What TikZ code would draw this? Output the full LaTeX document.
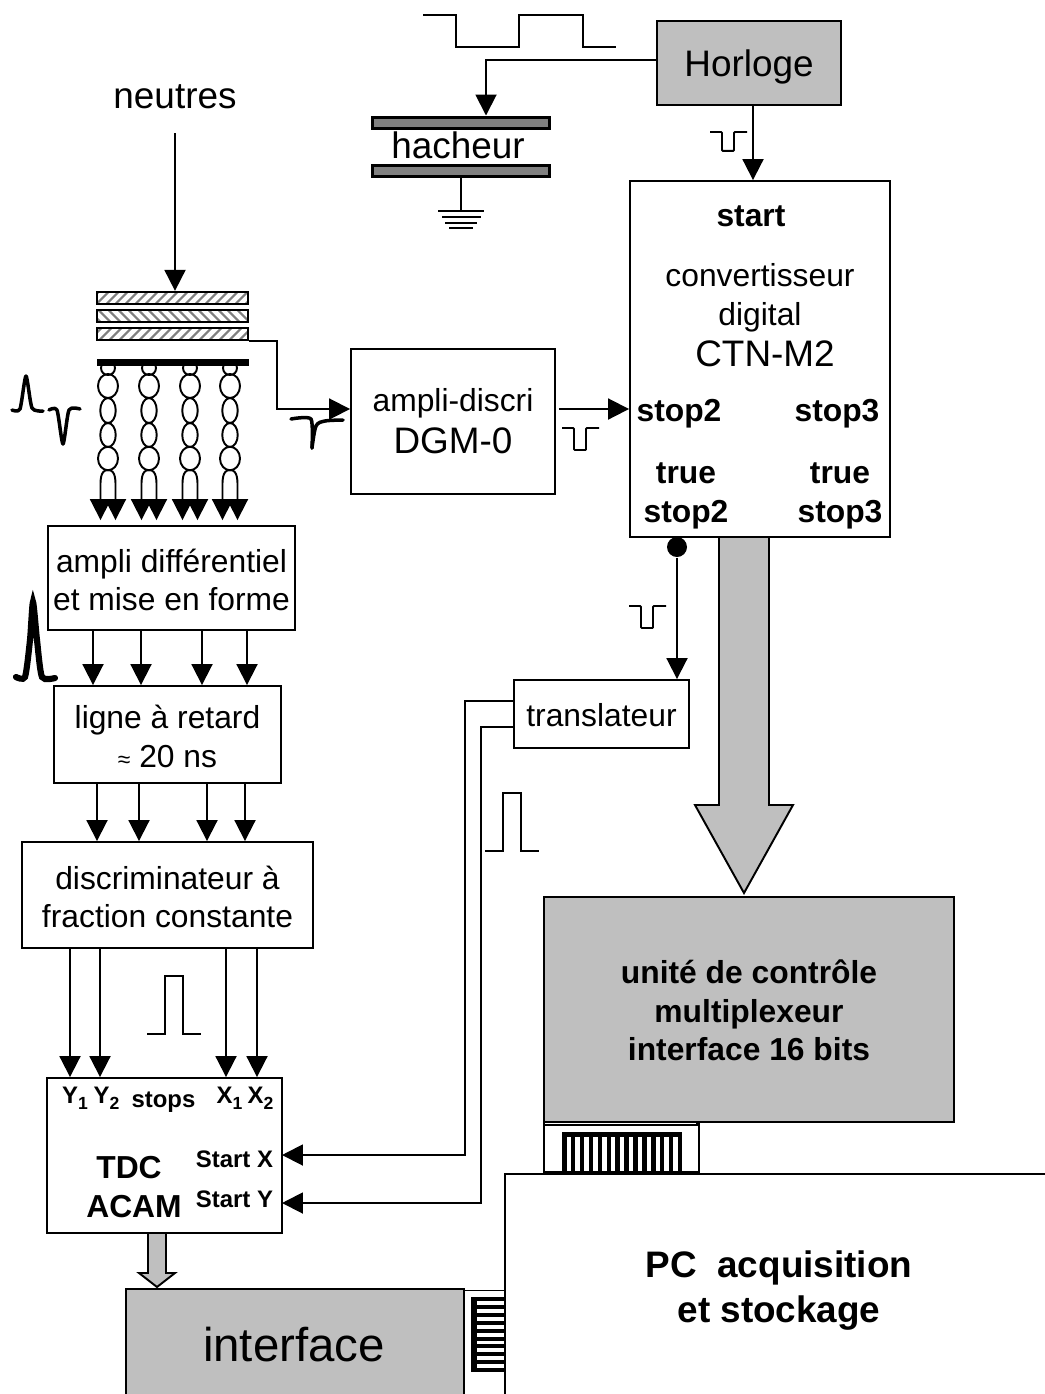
\documentclass[tikz,border=0pt]{standalone}
\usepackage{fontspec}
\setmainfont{Liberation Sans}
\usetikzlibrary{arrows.meta,patterns.meta}
\definecolor{gris}{gray}{0.75}
\definecolor{grisfonce}{gray}{0.5}
\newcommand\indice[1]{\raisebox{-3.5pt}{\fontsize{10}{12}\selectfont #1}}
\tikzset{
  arr/.style={-{Triangle[length=0.42cm,width=0.42cm]}},
  bloc/.style={draw,fill=white,inner sep=0pt},
  txt/.style={font=\fontsize{18.1}{22}\selectfont,align=center,inner sep=0pt},
  grand/.style={font=\fontsize{21}{24}\selectfont,align=center,inner sep=0pt},
  gras/.style={font=\fontsize{18.1}{22}\selectfont\bfseries,align=center,inner sep=0pt},
  petit/.style={font=\fontsize{13.6}{16}\selectfont\bfseries,inner sep=0pt,anchor=base},
  detect/.style={draw,inner sep=0pt,minimum width=3.02cm,minimum height=0.24cm,pattern color=gray},
  plaque/.style={draw,fill=grisfonce,inner sep=0pt,minimum width=3.56cm,minimum height=0.22cm,line width=1.7pt},
  main/.style={line width=2pt,line cap=round,line join=round},
  creux/.pic={\draw[rounded corners=0.5pt] (0,0) -- (12,0) -- (12,22) -- (24,22) -- (24,0) -- (37,0);},
  crenau/.pic={\draw (0,0) -- (18,0) -- (18,-58) -- (36,-58) -- (36,0) -- (54,0);}
}
\begin{document}
\begin{tikzpicture}[x=0.02cm,y=-0.02cm,line width=1.1pt]
  \path[use as bounding box,clip] (0,0) rectangle (1045,1394);
  % horloge et hacheur
  \draw (423,15) -- (456,15) -- (456,47) -- (519,47) -- (519,15) -- (583,15) -- (583,47) -- (616,47);
  \node[bloc,fill=gris,minimum width=3.68cm,minimum height=1.68cm] (horloge) at (749,63) {};
  \node[grand] (horloget) at (749,67) {Horloge};
  \node[plaque] (plaquea) at (461,122.5) {};
  \node[plaque] (plaqueb) at (461,170.5) {};
  \node[grand] (hacheur) at (458,145) {hacheur};
  \coordinate (coudeh) at (486,60);
  \draw[arr] (horloge.west |- coudeh) -- (coudeh) -- (coudeh |- plaquea.north);
  \coordinate (terre) at (461,211);
  \draw (plaqueb.south) -- (terre);
  \draw (438,211) -- (484,211) (442,217) -- (481,217) (445,223) -- (477,223) (449,228) -- (473,228);
  % convertisseur
  \node[bloc,minimum width=5.2cm,minimum height=7.12cm] (conv) at (760,359) {};
  \draw[arr] (753,0 |- horloge.south) -- (753,0 |- conv.north);
  \pic[yscale=0.86] at (710,132) {creux};
  \node[gras] (start) at (751,216) {start};
  \node[txt] (titre) at (760,297.5) {convertisseur\\digital};
  \node[grand] (ctn) at (765,354) {CTN-M2};
  \node[gras] (stopa) at (679,414) {stop2};
  \node[gras] (stopb) at (837,414) {stop3};
  \node[gras] (truea) at (686,496) {true\\stop2};
  \node[gras] (trueb) at (840,496) {true\\stop3};
  % grosse fleche
  \draw[fill=gris] (719,537) -- (769,537) -- (769,805) -- (793,805) -- (744,893) -- (695,805) -- (719,805) -- cycle;
  \node[bloc,fill=gris,minimum width=8.2cm,minimum height=4.5cm] (unite) at (749,1009.5) {};
  \node[gras] (unitet) at (749,1010.5) {unité de contrôle\\multiplexeur\\interface 16 bits};
  \node[bloc,minimum width=3.1cm,minimum height=1cm] (prisea) at (621.5,1147) {};
  \draw (544,1125) -- (697,1125) -- (697,1122);
  \fill (562,1132) rectangle (682,1137);
  \foreach \x in {0,...,13}
    \fill (562+\x*8.9,1137) rectangle (566.5+\x*8.9,1172);
  % detecteur
  \node[grand] (neutres) at (175,97) {neutres};
  \coordinate (faisceau) at (175,133);
  \node[detect,pattern={Lines[angle=45,distance=4pt,line width=1.3pt]}] (deta) at (172.5,298) {};
  \node[detect,pattern={Lines[angle=-45,distance=4pt,line width=1.3pt]}] (detb) at (172.5,316) {};
  \node[detect,pattern={Lines[angle=45,distance=4pt,line width=1.3pt]}] (detc) at (172.5,334) {};
  \draw[arr] (faisceau) -- (faisceau |- deta.north);
  \node[bloc,minimum width=4.94cm,minimum height=2.08cm] (diff) at (171.5,578) {};
  \node[txt] (difft) at (171.5,580) {ampli différentiel\\et mise en forme};
  \foreach \x in {108,149,190,230} {
    \draw (\x,368) ellipse [x radius=0.14cm,y radius=0.14cm];
    \draw (\x,386) ellipse [x radius=0.2cm,y radius=0.24cm];
    \draw (\x,410.5) ellipse [x radius=0.155cm,y radius=0.25cm];
    \draw (\x,435) ellipse [x radius=0.155cm,y radius=0.24cm];
    \draw (\x,458.5) ellipse [x radius=0.2cm,y radius=0.235cm];
    \draw[arr,shorten >=0.1cm] (\x,470) to[out=180,in=90] (\x-7.5,490) -- (\x-7.5,490 |- diff.north);
    \draw[arr,shorten >=0.1cm] (\x,470) to[out=0,in=90] (\x+7.5,490) -- (\x+7.5,490 |- diff.north);
  }
  \fill (97,359) rectangle (249,366);
  \draw[main] plot[smooth,tension=0.4] coordinates {(12,410) (20,409) (26,376) (32,408) (43,411)};
  \draw[main] plot[smooth,tension=0.4] coordinates {(49,410) (57,410) (63,444) (69,410) (80,409)};
  \draw[main] plot[smooth,tension=0.4] coordinates {(291,419) (311,419) (312,448)};
  \draw[main] plot[smooth,tension=0.5] coordinates {(312,448) (316,426) (325,421) (343,420)};
  \draw[line width=3.5pt,line cap=round] plot[smooth,tension=0.4] coordinates {(16,677) (25,677) (30,640) (33,602) (37,640) (42,677) (55,678)};
  % ampli discri
  \node[bloc,minimum width=4.08cm,minimum height=2.9cm] (ampli) at (453,421.5) {};
  \node[txt] (amplit) at (453,403) {ampli-discri};
  \node[grand] (dgm) at (453,441) {DGM-0};
  \coordinate (coude) at (277,409);
  \draw[arr] (detc.south east) -| (coude) -- (coude -| ampli.west);
  \draw[arr] ([xshift=0.06cm]coude -| ampli.east) -- (coude -| conv.west);
  \pic at (562,428) {creux};
  % chaine de voies
  \node[bloc,minimum width=4.54cm,minimum height=1.94cm] (ligne) at (167.5,734.5) {};
  \node[txt] (lignet) at (167.5,736.5) {ligne à retard\\{\fontsize{13}{14}\selectfont ≈} 20 ns};
  \node[bloc,minimum width=5.82cm,minimum height=2.12cm] (discr) at (167.5,895) {};
  \node[txt] (discrt) at (167.5,897) {discriminateur à\\fraction constante};
  \node[bloc,minimum width=4.7cm,minimum height=3.1cm] (tdc) at (164.5,1155.5) {};
  \foreach \x in {93,141,202,247}
    \draw[arr] (\x,0 |- diff.south) -- (\x,0 |- ligne.north);
  \foreach \x in {97,139,207,245}
    \draw[arr] (\x,0 |- ligne.south) -- (\x,0 |- discr.north);
  \foreach \x in {70,100,226,257}
    \draw[arr] (\x,0 |- discr.south) -- (\x,0 |- tdc.north);
  \pic at (147,1034) {crenau};
  \node[petit] (ya) at (75,1103) {Y\indice{1}};
  \node[petit] (yb) at (106.5,1103) {Y\indice{2}};
  \node[petit] (stops) at (163.5,1107) {stops};
  \node[petit] (xa) at (229.5,1103) {X\indice{1}};
  \node[petit] (xb) at (260.5,1103) {X\indice{2}};
  \node[gras,anchor=base] (tdcn) at (129,1178) {TDC};
  \node[gras,anchor=base] (acam) at (134,1217) {ACAM};
  \node[petit] (startx) at (234.5,1167) {Start X};
  \node[petit] (starty) at (234.5,1207) {Start Y};
  % translateur
  \node[bloc,minimum width=3.5cm,minimum height=1.36cm] (trans) at (601.5,714) {};
  \node[txt] (transt) at (601.5,715) {translateur};
  \node[circle,fill,inner sep=0pt,minimum size=0.4cm] (sortie) at (677,547) {};
  \draw[arr] (sortie) -- (sortie |- trans.north);
  \pic at (629,606) {creux};
  \pic at (485,851) {crenau};
  \coordinate (coudex) at (465,701);
  \coordinate (coudey) at (481,727);
  \coordinate (entreex) at (282,1155);
  \coordinate (entreey) at (282,1203);
  \draw[arr] (coudex -| trans.west) -- (coudex) |- (entreex);
  \draw[arr] (coudey -| trans.west) -- (coudey) |- (entreey);
  % bas de page
  \draw[fill=gris] (148,1233) -- (166,1233) -- (166,1273) -- (175,1273) -- (157,1287) -- (139,1273) -- (148,1273) -- cycle;
  \node[bloc,fill=gris,minimum width=6.76cm,minimum height=3cm,anchor=north west] (interface) at (125,1288) {};
  \node[font=\fontsize{27}{30}\selectfont,inner sep=0pt] (interfacet) at (294,1345) {interface};
  \node[bloc,minimum width=0.82cm,minimum height=3cm,anchor=north west,line width=0.6pt] (priseb) at (464,1290) {};
  \fill (471,1297) rectangle (477,1372);
  \foreach \y in {0,...,9}
    \fill (477,1297+\y*7.9) rectangle (506,1301+\y*7.9);
  \node[bloc,minimum width=11.5cm,minimum height=6cm,anchor=north west] (pc) at (504,1173) {};
  \node[font=\fontsize{21}{25.6}\selectfont\bfseries,align=center,inner sep=0pt] (pct) at (779,1291) {PC\ \ acquisition\\et stockage};
\end{tikzpicture}
\end{document}
